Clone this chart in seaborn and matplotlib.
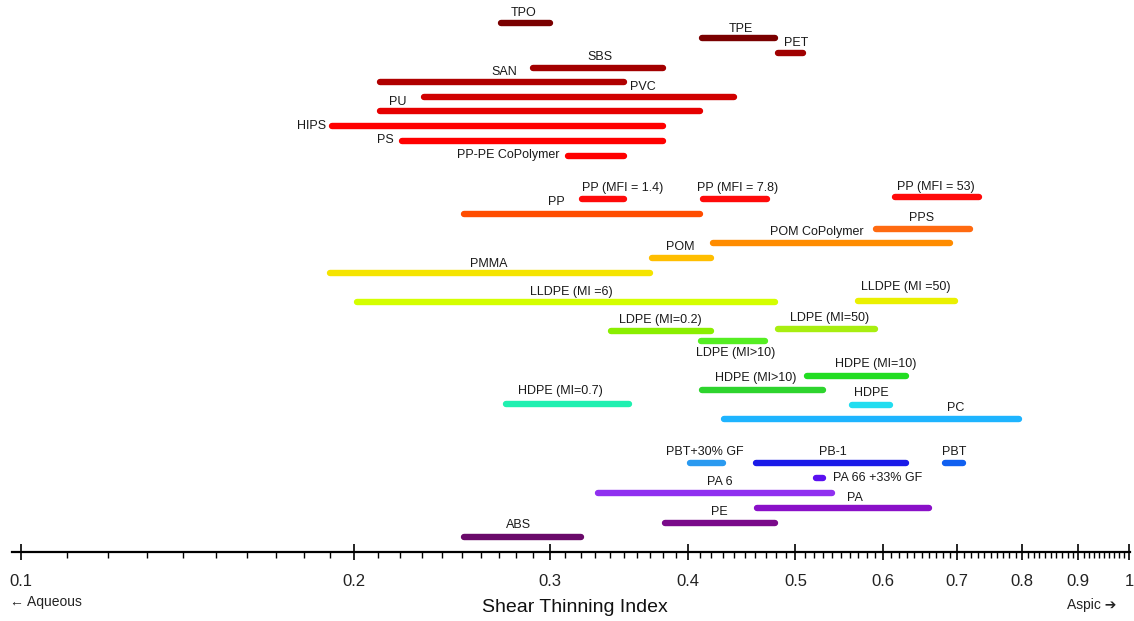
import numpy as np
import pandas as pd
import matplotlib
matplotlib.use("Agg")
import matplotlib.pyplot as plt
import seaborn as sns

# ---------------- data ----------------
polymers = ["TPO", "TPE", "PET", "SBS", "SAN", "PVC", "PU", "HIPS", "PS", "PP-PE CoPolymer",
            "PP (MFI = 1.4)", "PP (MFI = 7.8)", "PP (MFI = 53)", "PP", "PPS", "POM CoPolymer",
            "POM", "PMMA", "LLDPE (MI =6)", "LLDPE (MI =50)", "LDPE (MI=0.2)", "LDPE (MI=50)",
            "LDPE (MI>10)", "HDPE (MI=10)", "HDPE (MI>10)", "HDPE (MI=0.7)", "HDPE", "PC",
            "PBT+30% GF", "PB-1", "PBT", "PA 66 +33% GF", "PA 6", "PA", "PE", "ABS"]
sti_low = [0.271, 0.412, 0.482, 0.290, 0.211, 0.231, 0.211, 0.191, 0.221, 0.312,
           0.321, 0.413, 0.615, 0.251, 0.591, 0.421,
           0.371, 0.190, 0.201, 0.570, 0.341, 0.482,
           0.411, 0.512, 0.412, 0.274, 0.562, 0.431,
           0.402, 0.461, 0.682, 0.522, 0.332, 0.462, 0.381, 0.251]
sti_high = [0.300, 0.479, 0.508, 0.380, 0.350, 0.440, 0.410, 0.380, 0.380, 0.350,
            0.350, 0.471, 0.732, 0.410, 0.719, 0.689,
            0.420, 0.370, 0.479, 0.697, 0.420, 0.590,
            0.469, 0.629, 0.530, 0.354, 0.609, 0.796,
            0.430, 0.629, 0.708, 0.530, 0.540, 0.660, 0.479, 0.320]
tick_values = [0.1, 0.2, 0.3, 0.4, 0.5, 0.6, 0.7, 0.8, 0.9, 1.0]
tick_labels = ["0.1", "0.2", "0.3", "0.4", "0.5", "0.6", "0.7", "0.8", "0.9", "1"]

# ---------------- layout / style ----------------
rows = [23, 38, 53, 68, 82, 97, 111, 126, 141, 156,
        199, 199, 197, 214, 229, 243,
        258, 273, 302, 301, 331, 329,
        341, 376, 390, 404, 405, 419,
        463, 463, 463, 478, 493, 508, 523, 537]
colors = ["#7a0000", "#7a0000", "#a00000", "#a30000", "#b00000", "#d00000", "#e60000", "#ff0000",
          "#ff0000", "#ff0000",
          "#ff0a0a", "#ff0a0a", "#ff0a0a", "#ff4d00", "#ff6a10", "#ff8c00",
          "#ffbe00", "#f5e400", "#d4ff00", "#eaf000", "#8aee00", "#a8ee10",
          "#55ee22", "#22dd22", "#2ed42e", "#1ff0b0", "#22ddf0", "#1eb4ff",
          "#2a9af0", "#1a1ae8", "#1060f0", "#5a10f0", "#9030f0", "#8a10c8", "#7a0a8a", "#6a0a6a"]
# label anchor (STI value), row, horizontal alignment
label_x = [0.284, 0.446, 0.501, 0.333, 0.273, 0.364, 0.219, 0.1885, 0.217, 0.3065,
           0.349, 0.443, 0.670, 0.304, 0.650, 0.523,
           0.394, 0.2645, 0.314, 0.629, 0.378, 0.537,
           0.442, 0.591, 0.460, 0.307, 0.585, 0.698,
           0.414, 0.541, 0.695, 0.541, 0.427, 0.566, 0.427, 0.281]
label_y = [13, 29, 43, 57, 72, 87, 102, 126, 140, 155,
           188, 188, 187, 202, 218, 232,
           247, 264, 292, 287, 320, 318,
           353, 364, 378, 391, 393, 408,
           452, 452, 452, 478, 482, 498, 512, 525]
label_ha = ["center"] * 7 + ["right", "right", "right"] + ["center"] * 21 + ["left"] + ["center"] * 4

sns.set_theme(style="white")
plt.rcParams["font.family"] = ["Liberation Sans", "DejaVu Sans"]
narrow = ["Liberation Sans Narrow", "Liberation Sans", "DejaVu Sans"]

W, H = 1134, 621
fig = plt.figure(figsize=(W / 100, H / 100), dpi=100)
ax = fig.add_axes([12 / W, (H - 551.7) / H, (1130 - 12) / W, 551.7 / H])

df = pd.DataFrame({
    "name": np.repeat(polymers, 2),
    "sti": np.ravel(np.column_stack([sti_low, sti_high])),
    "row": np.repeat(rows, 2),
})
palette = dict(zip(polymers, colors))
sns.lineplot(data=df, x="sti", y="row", hue="name", palette=palette, estimator=None,
             sort=False, linewidth=4.6, solid_capstyle="round", legend=False, ax=ax)

for name, lx, ly, ha in zip(polymers, label_x, label_y, label_ha):
    ax.text(lx, ly, name, ha=ha, va="center", fontsize=9, color="#1a1a1a")

ax.set_xscale("log")
ax.set_xlim(0.0982, 1.002)
ax.set_ylim(551.7, 0)
ax.set_yticks([])
ax.set_xticks(tick_values)
ax.set_xticklabels(tick_labels, fontfamily=narrow, fontsize=12)
ax.set_xticks([v / 100 for v in range(11, 100) if v % 10 != 0], minor=True)
ax.xaxis.set_minor_formatter(matplotlib.ticker.NullFormatter())
ax.tick_params(axis="x", which="major", direction="inout", length=12, width=1.2,
               color="black", pad=10, labelcolor="#222222")
ax.tick_params(axis="x", which="minor", direction="out", length=4, width=1.0, color="black",
               bottom=True)
ax.tick_params(axis="x", which="both", bottom=True)
for s in ["top", "left", "right"]:
    ax.spines[s].set_visible(False)
ax.spines["bottom"].set_color("black")
ax.spines["bottom"].set_linewidth(1.6)
ax.set_xlabel("")
ax.set_ylabel("")
ax.patch.set_alpha(0)

fig.text(575 / W, 1 - 607 / H, "Shear Thinning Index", ha="center", va="center",
         fontsize=14, family=narrow, color="#111111")
fig.text(10 / W, 1 - 602 / H, "← Aqueous", ha="left", va="center",
         fontsize=10, family=narrow, color="#222222")
fig.text(1116 / W, 1 - 605 / H, "Aspic ➔", ha="right", va="center",
         fontsize=10, family=["Liberation Sans", "DejaVu Sans"], color="#222222")

fig.savefig("out.png", dpi=100)
